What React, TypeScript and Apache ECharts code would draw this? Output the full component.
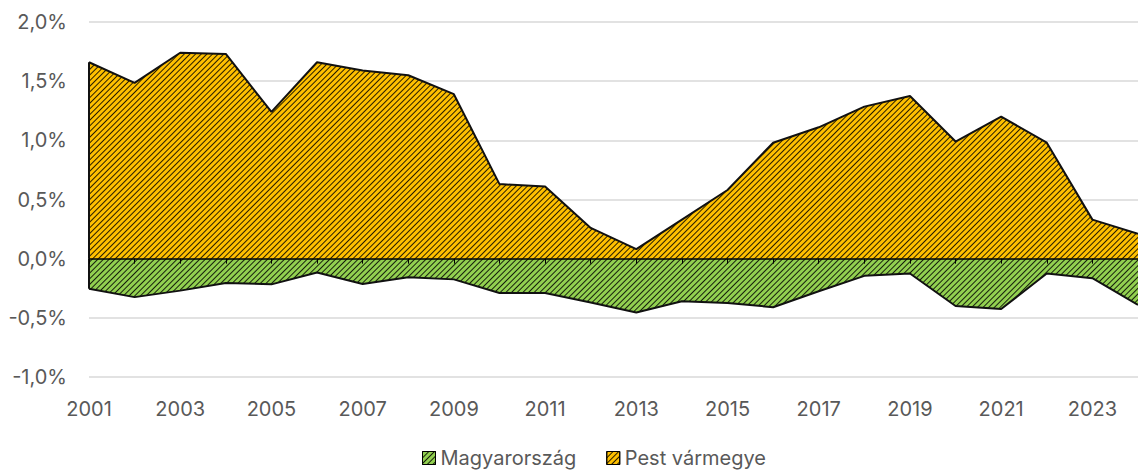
import React, { useEffect, useRef } from "react";
import * as echarts from "echarts";

const years = [
  "2001", "2002", "2003", "2004", "2005", "2006", "2007", "2008", "2009", "2010", "2011", "2012",
  "2013", "2014", "2015", "2016", "2017", "2018", "2019", "2020", "2021", "2022", "2023", "2024",
];
const pestValues = [
  1.66, 1.485, 1.74, 1.73, 1.24, 1.66, 1.59, 1.55, 1.39, 0.63, 0.61, 0.26,
  0.08, 0.33, 0.58, 0.98, 1.11, 1.285, 1.375, 0.99, 1.2, 0.98, 0.33, 0.21,
];
const hungaryValues = [
  -0.255, -0.325, -0.27, -0.205, -0.217, -0.117, -0.214, -0.158, -0.175, -0.29, -0.29, -0.37,
  -0.455, -0.36, -0.375, -0.41, -0.275, -0.145, -0.125, -0.4, -0.425, -0.125, -0.165, -0.39,
];
const seriesNames = ["Magyarország", "Pest vármegye"];
const yMin = -1;
const yMax = 2;
const yStep = 0.5;

const FONT = "Inter";
const TEXT = "#595959";
const GREEN = "#92D050";
const ORANGE = "#FFC000";

const hatch = {
  symbol: "rect",
  symbolSize: 1,
  dashArrayX: [1, 0],
  dashArrayY: [1, 3],
  rotation: -Math.PI / 4,
  color: "rgba(0,0,0,0.85)",
};

function areaSeries(name: string, values: number[], fill: string) {
  return {
    name,
    type: "line",
    xAxisIndex: 0,
    data: values,
    symbol: "none",
    showSymbol: false,
    lineStyle: { color: "#111", width: 2, decal: hatch },
    itemStyle: { color: fill, decal: hatch },
    areaStyle: { color: fill, opacity: 1 },
    z: 3,
    markLine: {
      silent: true,
      symbol: "none",
      label: { show: false },
      lineStyle: { color: "#111", width: 2, type: "solid" },
      data: [[{ coord: [years[0], 0] }, { coord: [years[0], values[0]] }]],
    },
  };
}

export default function App() {
  const ref = useRef<HTMLDivElement>(null);
  useEffect(() => {
    if (!ref.current) return;
    const chart = echarts.init(ref.current, undefined, { renderer: "svg" });
    chart.setOption({
      animation: false,
      backgroundColor: "#ffffff",
      textStyle: { fontFamily: FONT },
      grid: { left: 89, right: -9, top: 22, bottom: 96 },
      legend: {
        left: 417,
        top: 443,
        itemWidth: 13,
        itemHeight: 13,
        itemGap: 30,
        icon: "rect",
        textStyle: { fontFamily: FONT, fontSize: 20, color: TEXT },
        data: [
          { name: seriesNames[0], itemStyle: { color: GREEN, borderColor: "#000", borderWidth: 1, decal: hatch } },
          { name: seriesNames[1], itemStyle: { color: ORANGE, borderColor: "#000", borderWidth: 1, decal: hatch } },
        ],
      },
      xAxis: [
        {
          type: "category",
          data: years,
          boundaryGap: false,
          position: "bottom",
          axisLine: { show: false, onZero: false },
          axisTick: { show: false },
          axisLabel: {
            interval: 1,
            margin: 22,
            fontFamily: FONT,
            fontSize: 20,
            color: TEXT,
          },
          splitLine: { show: false },
        },
        {
          type: "category",
          data: years,
          boundaryGap: false,
          position: "bottom",
          z: 10,
          axisLine: { show: true, onZero: true, lineStyle: { color: "#000", width: 1.5 } },
          axisTick: { show: true, interval: 0, length: 5, lineStyle: { color: "#000", width: 1 } },
          axisLabel: { show: false },
          splitLine: { show: false },
        },
      ],
      yAxis: {
        type: "value",
        min: yMin,
        max: yMax,
        interval: yStep,
        axisLine: { show: false },
        axisTick: { show: false },
        axisLabel: {
          margin: 22,
          fontFamily: FONT,
          fontSize: 20,
          color: TEXT,
          formatter: (v: number) => v.toFixed(1).replace(".", ",") + "%",
        },
        splitLine: { lineStyle: { color: "#D9D9D9", width: 1.5 } },
      },
      series: [
        areaSeries(seriesNames[0], hungaryValues, GREEN),
        areaSeries(seriesNames[1], pestValues, ORANGE),
      ],
    });
    return () => chart.dispose();
  }, []);
  return (
    <div
      ref={ref}
      style={{ position: "fixed", left: 0, top: 0, width: 1138, height: 473, background: "#fff" }}
    />
  );
}
